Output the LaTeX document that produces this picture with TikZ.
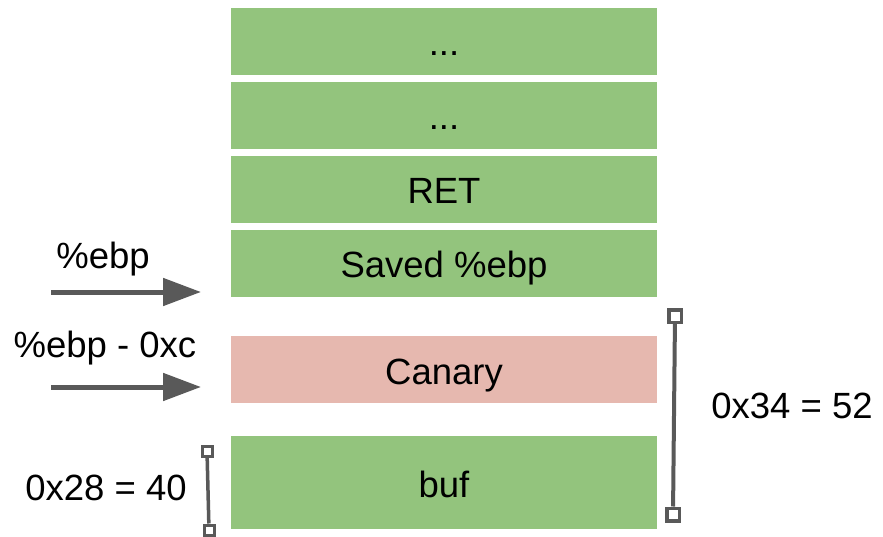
\documentclass[tikz,border=0pt]{standalone}
\usepackage{fontspec}
\setmainfont{Liberation Sans}
\usepackage{xcolor}
\usetikzlibrary{arrows.meta,positioning}
\definecolor{stackgreen}{HTML}{93C47D}
\definecolor{canarypink}{HTML}{E6B8AF}
\definecolor{ptrgray}{HTML}{595959}

\begin{document}
\begin{tikzpicture}[x=1pt, y=-1pt, node distance = 7pt,
  font=\fontsize{36.5}{40}\selectfont,
  slot/.style={fill=stackgreen, minimum width=426pt, minimum height=67pt, inner sep=0pt, outer sep=0pt, text height=33pt, text depth=4pt},
  ptr/.style={draw=ptrgray, line width=5pt, -{Triangle[length=38pt,width=27pt]}},
  tick/.style={draw=ptrgray, fill=white, line width=3.5pt, minimum size=12.5pt, inner sep=0pt},
  span/.style={draw=ptrgray, line width=4pt}]
\useasboundingbox (0,0) rectangle (883,537);
% stack slots
\node[slot] (top) at (444,41.5) {...};
\node[slot, below=of top] (dots) {...};
\node[slot, below=of dots] (ret) {RET};
\node[slot, below=of ret] (saved) {Saved \%ebp};
\node[slot, fill=canarypink, below=39pt of saved] (canary) {Canary};
\node[slot, minimum height=93pt, below=33pt of canary] (buf) {buf};
% pointers
\coordinate (ebp) at (51,292);
\coordinate (ebpend) at (201,292);
\draw[ptr] (ebp) -- (ebpend);
\node[anchor=base] (ebplbl) at (103,269) {\%ebp};
\coordinate (can) at (51,387);
\coordinate (canend) at (201,387);
\draw[ptr] (can) -- (canend);
\node[anchor=base] (canlbl) at (105,357) {\%ebp - 0xc};
% sizes
\node[tick] (hi) at (675,316) {};
\node[tick] (lo) at (673,514.5) {};
\draw[span] (hi) -- (lo);
\node[anchor=base] (bigsize) at (792,418) {0x34 = 52};
\node[tick, line width=3pt, minimum size=10pt] (bhi) at (207,451) {};
\node[tick, line width=3pt, minimum size=10pt] (blo) at (209,530) {};
\draw[span, line width=3.5pt] (bhi) -- (blo);
\node[anchor=base] (bufsize) at (106,500) {0x28 = 40};
\end{tikzpicture}
\end{document}
